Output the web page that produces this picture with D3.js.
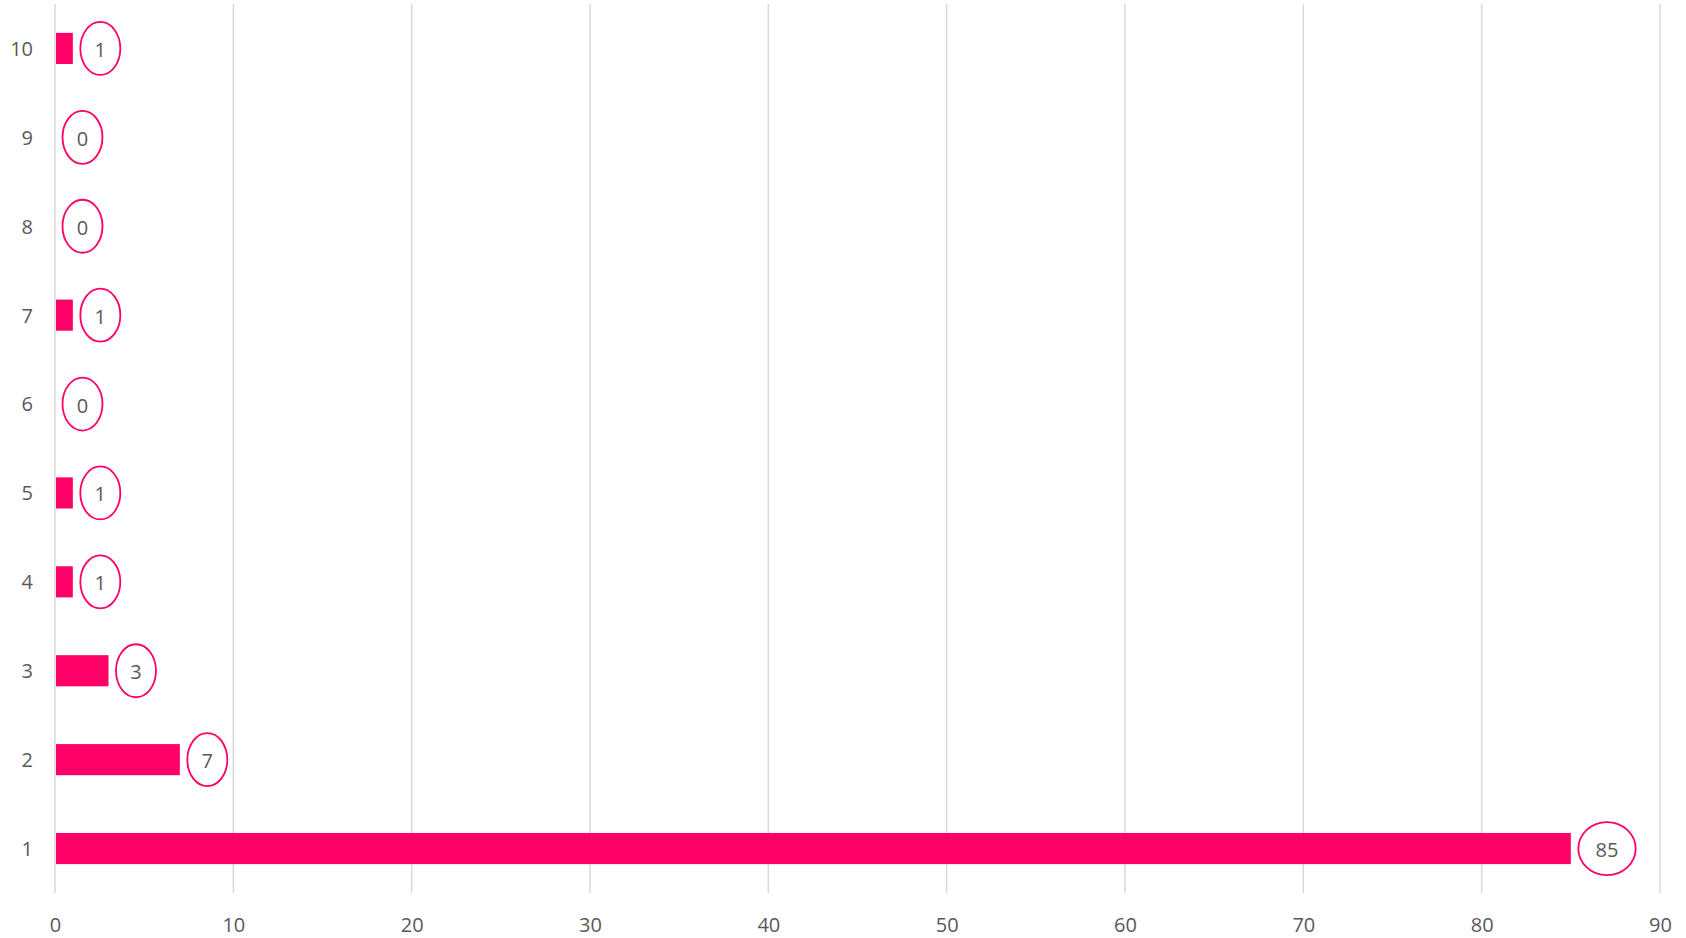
<!DOCTYPE html>
<html>
<head>
<meta charset="utf-8">
<script src="https://cdn.jsdelivr.net/npm/d3@7"></script>
<style>
  html, body { margin: 0; padding: 0; background: #fff; }
  svg { display: block; }
  text { font-family: "Open Sans", "Liberation Sans", sans-serif; fill: #595959; }
</style>
</head>
<body>
<svg id="chart" width="1686" height="938"></svg>
<script>
const categories = ["1", "2", "3", "4", "5", "6", "7", "8", "9", "10"];
const values = [85, 7, 3, 1, 1, 0, 1, 0, 0, 1];
const xTicks = [0, 10, 20, 30, 40, 50, 60, 70, 80, 90];

(function () {
const svg = d3.select("#chart");
const mLeft = 55, mRight = 1660, mTop = 4, mBottom = 893;
const barColor = "#FF0066";
const gridColor = "#D9D9D9";
const fs = 20;

const x = d3.scaleLinear().domain([0, 90]).range([mLeft, mRight]);
const y = d3.scaleBand().domain(categories.slice().reverse()).range([mTop, mBottom]).paddingInner(0.65).paddingOuter(0.325);

// gridlines
svg.append("g").selectAll("line").data(xTicks).join("line")
  .attr("x1", d => x(d)).attr("x2", d => x(d))
  .attr("y1", mTop).attr("y2", mBottom)
  .attr("stroke", gridColor).attr("stroke-width", 1.5);

// x-axis tick labels
const xAxis = d3.axisBottom(x).tickValues(xTicks).tickSize(0).tickPadding(0);
const gx = svg.append("g").attr("transform", `translate(0,${mBottom})`).call(xAxis);
gx.select(".domain").remove();
gx.selectAll("text").attr("font-size", fs).attr("dy", null).attr("y", 39)
  .style("font-family", '"Open Sans", sans-serif').attr("fill", "#595959");

// y-axis labels
const yAxis = d3.axisLeft(y).tickSize(0).tickPadding(0);
const gy = svg.append("g").attr("transform", `translate(33,1)`).call(yAxis);
gy.select(".domain").remove();
gy.selectAll("text").attr("font-size", fs).attr("fill", "#595959")
  .style("font-family", '"Open Sans", sans-serif');

const data = categories.map((c, i) => ({ c, v: values[i] }));

// bars
svg.append("g").selectAll("rect").data(data.filter(d => d.v > 0)).join("rect")
  .attr("x", x(0) + 1)
  .attr("y", d => y(d.c))
  .attr("width", d => x(d.v) - x(0) - 1)
  .attr("height", y.bandwidth())
  .attr("fill", barColor);

// labels with ellipses
const lg = svg.append("g");
data.forEach(d => {
  const g = lg.append("g");
  const cy = y(d.c) + y.bandwidth() / 2;
  const t = g.append("text").text(d.v).attr("font-size", fs)
    .attr("text-anchor", "middle").attr("dominant-baseline", "central");
  const w = t.node().getComputedTextLength();
  const rx = 11.3 + w * 0.76;
  const cx = x(d.v) + 7.5 + rx;
  t.attr("x", cx).attr("y", cy + 1);
  g.insert("ellipse", "text").attr("cx", cx).attr("cy", cy)
    .attr("rx", rx).attr("ry", 26.5)
    .attr("fill", "#fff").attr("stroke", barColor).attr("stroke-width", 1.8);
});
})();
</script>
</body>
</html>
